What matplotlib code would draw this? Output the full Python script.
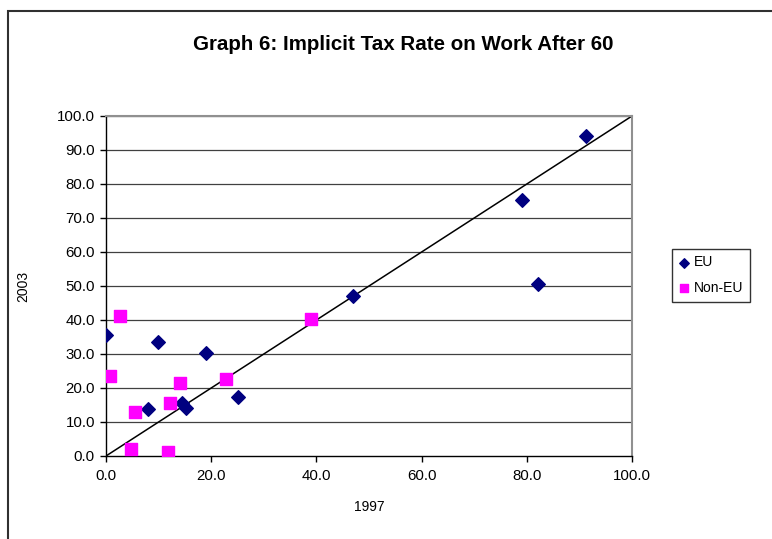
import matplotlib
matplotlib.use('Agg')
import matplotlib.pyplot as plt
from matplotlib.patches import Rectangle
import numpy as np

plt.rcParams['font.family'] = ['Liberation Sans', 'DejaVu Sans']

# Implicit tax rate on work after 60 (1997 vs 2003)
eu_1997 = [0.0, 9.8, 19.0, 7.9, 14.5, 15.3, 25.0, 47.0, 79.0, 82.1, 91.2]
eu_2003 = [35.5, 33.4, 30.4, 13.7, 15.5, 14.0, 17.4, 47.1, 75.3, 50.7, 94.2]

noneu_1997 = [2.7, 0.8, 5.6, 4.7, 11.7, 12.2, 14.1, 22.9, 39.0]
noneu_2003 = [41.3, 23.5, 13.0, 2.1, 1.3, 15.7, 21.4, 22.7, 40.3]

x_ticks = [0, 20, 40, 60, 80, 100]
y_ticks = [0, 10, 20, 30, 40, 50, 60, 70, 80, 90, 100]
diag = [0, 100]

fig = plt.figure(figsize=(7.72, 5.39), dpi=100)
ax = fig.add_axes([0.1373, 0.154, 0.6814, 0.6308])

# outer chart frame (cut off at right and bottom like the original)
fig.patches.append(Rectangle((8 / 772, -0.05), 1.1, 1 - 11 / 539 + 0.05,
                             transform=fig.transFigure, fill=False,
                             edgecolor='#303030', linewidth=1.5))

for yv in y_ticks[1:]:
    ax.axhline(yv, color='#404040', linewidth=0.9, zorder=1)

ax.plot(diag, diag, color='black', linewidth=1.1, zorder=2)

ax.scatter(eu_1997, eu_2003, marker='D', s=48, color='#000080',
           edgecolors='#000080', label='EU', zorder=3)
ax.scatter(noneu_1997, noneu_2003, marker='s', s=72, color='#FF00FF',
           edgecolors='#FF00FF', label='Non-EU', zorder=3)

ax.set_xlim(0, 100)
ax.set_ylim(0, 100)
ax.set_xticks(x_ticks)
ax.set_yticks(y_ticks)
ax.set_xticklabels([f'{v:.1f}' for v in x_ticks], fontsize=10.8)
ax.set_yticklabels([f'{v:.1f}' for v in y_ticks], fontsize=10.8)
ax.tick_params(direction='out', length=4.5, width=1)
ax.tick_params(axis='y', pad=3.5)
ax.tick_params(axis='x', pad=5)

for side in ['left', 'bottom']:
    ax.spines[side].set_color('black')
    ax.spines[side].set_linewidth(1)
for side in ['top', 'right']:
    ax.spines[side].set_color('#909090')
    ax.spines[side].set_linewidth(1.5)

ax.set_xlabel('1997', fontsize=10, labelpad=12)
ax.set_ylabel('2003', fontsize=10, labelpad=19)

fig.text(0.522, 0.918, 'Graph 6: Implicit Tax Rate on Work After 60',
         ha='center', va='center', fontsize=14.8, fontweight='bold')

leg = fig.legend(loc='center left', bbox_to_anchor=(672 / 772, 1 - 275 / 539),
                 fontsize=10, frameon=True, fancybox=False, edgecolor='black',
                 handletextpad=0.35, handlelength=0.7, borderpad=0.5,
                 labelspacing=0.8, markerscale=0.7, borderaxespad=0)
leg.get_frame().set_linewidth(1)

plt.savefig('out.png', dpi=100)
